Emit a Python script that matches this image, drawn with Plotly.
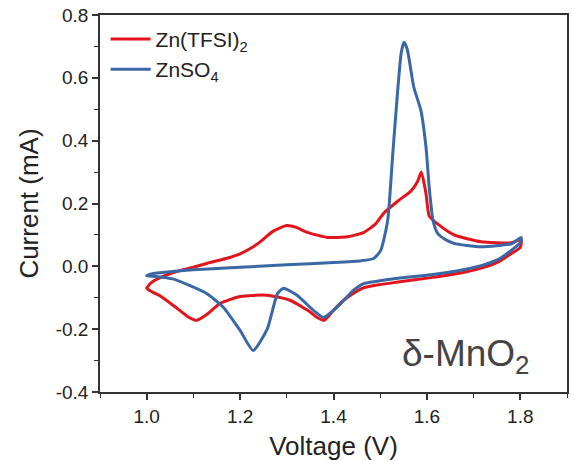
import plotly.graph_objects as go

# Zn(TFSI)2 cyclic voltammogram (closed loop: anodic sweep 1.0->1.8, then cathodic 1.8->1.0)
v_tfsi = [1.000, 1.010, 1.030, 1.060, 1.100, 1.130, 1.170, 1.200, 1.236, 1.271, 1.300, 1.320,
          1.344, 1.387, 1.430, 1.465, 1.490, 1.508, 1.538, 1.566, 1.580, 1.588, 1.598, 1.605,
          1.623, 1.658, 1.716, 1.781, 1.802,
          1.800, 1.780, 1.753, 1.720, 1.680, 1.609, 1.538, 1.490, 1.465, 1.443, 1.422, 1.400,
          1.380, 1.365, 1.350, 1.307, 1.258, 1.200, 1.157, 1.130, 1.107, 1.090, 1.060, 1.030,
          1.010, 1.000]
i_tfsi = [-0.070, -0.052, -0.035, -0.018, -0.003, 0.010, 0.025, 0.040, 0.070, 0.112, 0.130, 0.124,
          0.108, 0.092, 0.094, 0.108, 0.135, 0.170, 0.208, 0.240, 0.270, 0.300, 0.232, 0.160,
          0.135, 0.100, 0.078, 0.075, 0.085,
          0.060, 0.040, 0.014, -0.004, -0.019, -0.036, -0.050, -0.060, -0.068, -0.086, -0.108, -0.140,
          -0.172, -0.163, -0.145, -0.108, -0.092, -0.096, -0.118, -0.152, -0.172, -0.162, -0.128, -0.095,
          -0.080, -0.070]

# ZnSO4 cyclic voltammogram
v_so4 = [1.000, 1.010, 1.050, 1.100, 1.200, 1.300, 1.400, 1.460, 1.486, 1.501, 1.516, 1.527,
         1.538, 1.545, 1.551, 1.558, 1.572, 1.587, 1.598, 1.605, 1.613, 1.623, 1.640, 1.658,
         1.716, 1.781, 1.802,
         1.800, 1.780, 1.753, 1.720, 1.680, 1.609, 1.538, 1.490, 1.465, 1.443, 1.422, 1.400,
         1.379, 1.357, 1.322, 1.293, 1.280, 1.258, 1.228, 1.200, 1.164, 1.129, 1.090, 1.056,
         1.020, 1.000]
i_so4 = [-0.030, -0.024, -0.017, -0.011, -0.003, 0.005, 0.012, 0.018, 0.025, 0.050, 0.146, 0.360,
         0.570, 0.680, 0.713, 0.690, 0.570, 0.497, 0.380, 0.250, 0.147, 0.105, 0.085, 0.073,
         0.062, 0.072, 0.092,
         0.075, 0.050, 0.022, 0.004, -0.010, -0.027, -0.038, -0.048, -0.055, -0.076, -0.108, -0.140,
         -0.163, -0.140, -0.092, -0.070, -0.087, -0.200, -0.268, -0.204, -0.130, -0.087, -0.060, -0.040,
         -0.032, -0.030]

x_ticks = [1.0, 1.2, 1.4, 1.6, 1.8]
x_ticktext = ["1.0", "1.2", "1.4", "1.6", "1.8"]
y_ticks = [-0.4, -0.2, 0.0, 0.2, 0.4, 0.6, 0.8]
y_ticktext = ["-0.4", "-0.2", "0.0", "0.2", "0.4", "0.6", "0.8"]

FONT = "Liberation Sans, Arial, sans-serif"
RED = "#E3141B"
BLUE = "#3A68A4"

fig = go.Figure()
fig.add_trace(go.Scatter(x=v_tfsi, y=i_tfsi, mode="lines", name="Zn(TFSI)<sub>2</sub>",
                         line=dict(color=RED, width=3, shape="spline", smoothing=0.55)))
fig.add_trace(go.Scatter(x=v_so4, y=i_so4, mode="lines", name="ZnSO<sub>4</sub>",
                         line=dict(color=BLUE, width=3, shape="spline", smoothing=0.55)))

axis_common = dict(showline=True, linecolor="#333333", linewidth=1.5, mirror=True,
                   ticks="outside", ticklen=6, tickwidth=1.5, tickcolor="#333333",
                   showgrid=False, zeroline=False, automargin=False,
                   tickfont=dict(family=FONT, size=19, color="#222222"))

fig.update_xaxes(range=[0.9, 1.9], tickmode="array", tickvals=x_ticks, ticktext=x_ticktext,
                 minor=dict(ticks="outside", ticklen=4, tickwidth=1.2, tickcolor="#333333",
                            tickmode="linear", tick0=0.9, dtick=0.1),
                 title=dict(text="Voltage (V)", font=dict(family=FONT, size=26, color="#222222"),
                            standoff=13),
                 **axis_common)
fig.update_yaxes(range=[-0.4, 0.8], tickmode="array", tickvals=y_ticks, ticktext=y_ticktext,
                 minor=dict(ticks="outside", ticklen=4, tickwidth=1.2, tickcolor="#333333",
                            tickmode="linear", tick0=-0.3, dtick=0.2),
                 title=dict(text="Current (mA)", font=dict(family=FONT, size=26, color="#222222"),
                            standoff=10),
                 **axis_common)

fig.add_annotation(x=1.825, y=-0.285, xref="x", yref="y", xanchor="right", yanchor="middle",
                   text="δ-MnO<sub>2</sub>", showarrow=False,
                   font=dict(family=FONT, size=37, color="#444444"))

fig.update_layout(
    width=574, height=461,
    margin=dict(l=100, r=7, t=15, b=69),
    paper_bgcolor="white", plot_bgcolor="white",
    showlegend=True,
    legend=dict(x=0.012, y=0.99, xanchor="left", yanchor="top", bgcolor="rgba(0,0,0,0)",
                font=dict(family=FONT, size=21, color="#222222"), tracegroupgap=0,
                itemwidth=40),
)

fig.write_html("out.html")
